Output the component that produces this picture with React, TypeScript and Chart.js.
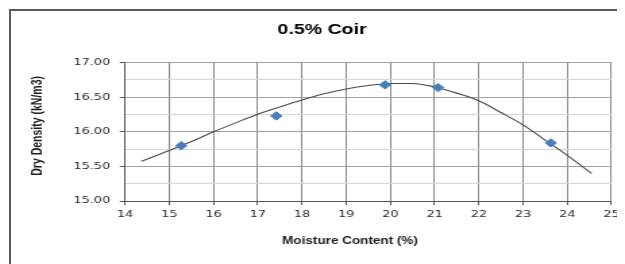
import React, { useEffect, useRef } from "react";
import { Chart, registerables } from "chart.js";

Chart.register(...registerables);

const chartTitle = "0.5% Coir";
const xAxisTitle = "Moisture Content (%)";
const yAxisTitle = "Dry Density (kN/m3)";

const moisture = [15.27, 17.42, 19.88, 21.08, 23.63];
const density = [15.8, 16.23, 16.68, 16.64, 15.84];

const trendX = [14.37, 15, 15.5, 16, 16.5, 17, 17.5, 18, 18.5, 19, 19.5, 20, 20.5, 21, 21.5, 22, 22.5, 23, 23.5, 24, 24.55];
const trendY = [15.575, 15.73, 15.86, 16.0, 16.13, 16.255, 16.36, 16.46, 16.55, 16.62, 16.67, 16.7, 16.7, 16.65, 16.56, 16.45, 16.28, 16.1, 15.88, 15.66, 15.4];

const xMin = 14;
const xMax = 25;
const yMin = 15;
const yMax = 17;

const SX = 1.35;
const PAGE_W = 617;
const PAGE_H = 256;
const LOG_W = Math.round(PAGE_W / SX);

export default function App() {
  const ref = useRef<HTMLCanvasElement | null>(null);

  useEffect(() => {
    if (!ref.current) return;
    const textPlugin = {
      id: "customText",
      afterDraw(chart: any) {
        const ctx = chart.ctx;
        const area = chart.chartArea;
        ctx.save();
        ctx.fillStyle = "#000000";
        ctx.textAlign = "center";
        ctx.textBaseline = "alphabetic";
        ctx.font = "bold 14.5px 'Liberation Sans', Arial, sans-serif";
        ctx.fillText(chartTitle, 232.6, 26.3);
        ctx.fillStyle = "#1a1a1a";
        ctx.font = "bold 10px 'Liberation Sans', Arial, sans-serif";
        ctx.fillText(xAxisTitle, 253.3, 235.5);
        ctx.translate(22.2, (area.top + area.bottom) / 2 - 6);
        ctx.rotate(-Math.PI / 2);
        ctx.textBaseline = "middle";
        ctx.font = "bold 10.5px 'Liberation Sans', Arial, sans-serif";
        ctx.fillText(yAxisTitle, 0, 0);
        ctx.restore();
      },
    };

    const chart = new Chart(ref.current, {
      type: "scatter",
      data: {
        datasets: [
          {
            label: "Trend",
            data: trendX.map((x, i) => ({ x, y: trendY[i] })),
            showLine: true,
            borderColor: "#4a4a4a",
            borderWidth: 1.1,
            pointRadius: 0,
            tension: 0.4,
            cubicInterpolationMode: "monotone",
            order: 2,
          },
          {
            label: "Data",
            data: moisture.map((x, i) => ({ x, y: density[i] })),
            showLine: false,
            pointStyle: "rectRot",
            pointRadius: 4.2,
            backgroundColor: "#4a7ebb",
            borderColor: "#4a7ebb",
            borderWidth: 1,
            order: 1,
          },
        ],
      },
      options: {
        animation: false,
        responsive: false,
        devicePixelRatio: 1,
        layout: { padding: { left: 0, top: 54.7, right: 6.1, bottom: 0 } },
        plugins: {
          legend: { display: false },
          title: { display: false },
          tooltip: { enabled: false },
        },
        scales: {
          x: {
            type: "linear",
            min: xMin,
            max: xMax,
            afterFit: (s: any) => {
              s.height = 63;
            },
            ticks: {
              stepSize: 1,
              color: "#2a2a2a",
              padding: 4,
              font: { family: "'DejaVu Sans', Verdana, sans-serif", size: 9.5 },
            },
            grid: {
              color: "#8a8a8a",
              lineWidth: 1,
              tickLength: 4,
              tickColor: "#555555",
            },
            border: { color: "#555555", width: 1 },
          },
          y: {
            type: "linear",
            min: yMin,
            max: yMax,
            afterFit: (s: any) => {
              s.width = 86.7;
            },
            ticks: {
              stepSize: 0.25,
              color: "#2a2a2a",
              padding: 7,
              font: { family: "'DejaVu Sans', Verdana, sans-serif", size: 9.5 },
              callback: (v: any) => {
                const n = Number(v);
                return Math.abs(n * 2 - Math.round(n * 2)) < 1e-6 ? n.toFixed(2) : "";
              },
            },
            grid: {
              color: (c: any) => {
                const n = c.tick ? c.tick.value : 0;
                return Math.abs(n * 2 - Math.round(n * 2)) < 1e-6 ? "#a0a0a0" : "#d6d6d6";
              },
              lineWidth: 1,
              tickLength: 4,
              tickColor: (c: any) => {
                const n = c.tick ? c.tick.value : 0;
                return Math.abs(n * 2 - Math.round(n * 2)) < 1e-6 ? "#555555" : "rgba(0,0,0,0)";
              },
            },
            border: { color: "#555555", width: 1 },
          },
        },
      },
      plugins: [textPlugin],
    });
    return () => chart.destroy();
  }, []);

  return (
    <div style={{ position: "relative", width: PAGE_W, height: PAGE_H, overflow: "hidden", background: "#ffffff" }}>
      <div
        style={{
          position: "absolute",
          left: 1,
          top: 1,
          width: 700,
          height: 400,
          borderLeft: "2px solid #5a5a5a",
          borderTop: "2px solid #5a5a5a",
          boxSizing: "border-box",
        }}
      />
      <canvas
        ref={ref}
        width={LOG_W}
        height={PAGE_H}
        style={{ position: "absolute", left: 0, top: 0, width: PAGE_W + "px", height: PAGE_H + "px", display: "block" }}
      />
    </div>
  );
}
